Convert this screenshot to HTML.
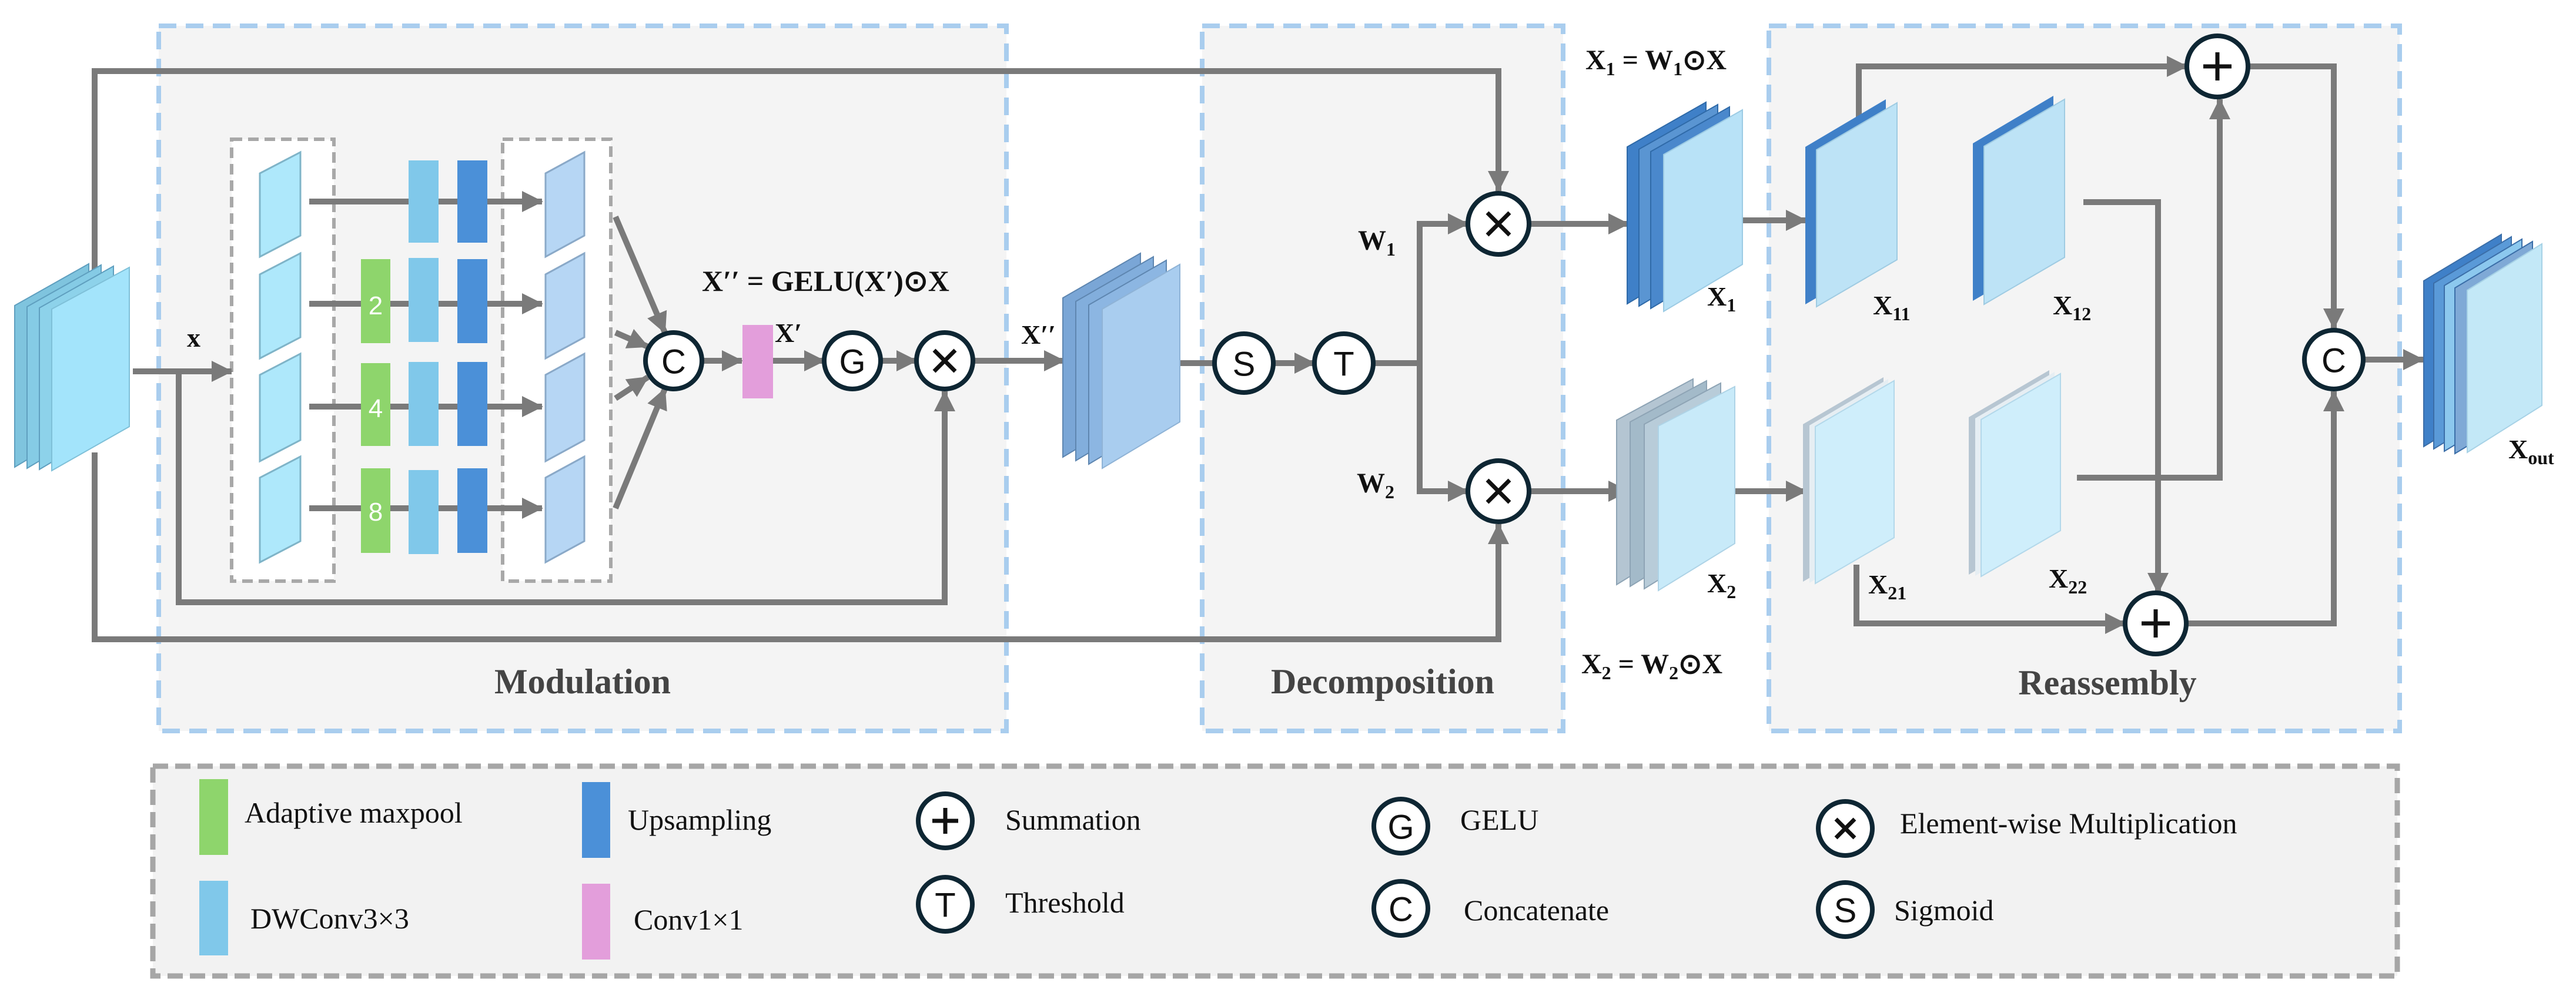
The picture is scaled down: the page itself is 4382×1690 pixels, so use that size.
<!DOCTYPE html>
<html><head><meta charset="utf-8"><style>
html,body{margin:0;padding:0;background:#fff;}
svg{display:block;}
.lbl{font-family:"Liberation Serif",serif;font-weight:bold;fill:#111;}
.sec{font-family:"Liberation Serif",serif;font-weight:bold;fill:#444;font-size:60px;}
.leg{font-family:"Liberation Serif",serif;fill:#111;font-size:50px;}
.cg{font-family:"Liberation Sans",sans-serif;fill:#111;font-size:58px;text-anchor:middle;dominant-baseline:central;}
.ln{stroke:#7a7a7a;stroke-width:10;fill:none;}
.circ{fill:#fff;stroke:#0e2633;stroke-width:8;}
.op{stroke:#111;stroke-width:7;}
</style></head><body>
<svg width="4382" height="1690" viewBox="0 0 4382 1690" xmlns="http://www.w3.org/2000/svg">
<defs>
<marker id="a" markerUnits="userSpaceOnUse" markerWidth="40" markerHeight="40" refX="34" refY="20" orient="auto">
<path d="M0,2 L36,20 L0,38 Z" fill="#7a7a7a"/>
</marker>
</defs>
<rect width="4382" height="1690" fill="#fff"/>

<rect x="270" y="44" width="1442" height="1200" fill="#f4f4f4" stroke="#a9cdee" stroke-width="8" stroke-dasharray="30 16"/>
<rect x="2045" y="44" width="614" height="1200" fill="#f4f4f4" stroke="#a9cdee" stroke-width="8" stroke-dasharray="30 16"/>
<rect x="3009" y="44" width="1073" height="1200" fill="#f4f4f4" stroke="#a9cdee" stroke-width="8" stroke-dasharray="30 16"/>
<rect x="260" y="1304" width="3818" height="357" fill="#f2f2f2" stroke="#a6a6a6" stroke-width="9" stroke-dasharray="26 12"/>

<rect x="394" y="237" width="174" height="752" fill="#fff" stroke="#a8a8a8" stroke-width="6" stroke-dasharray="18 10"/>
<rect x="855" y="237" width="184" height="752" fill="#fff" stroke="#a8a8a8" stroke-width="6" stroke-dasharray="18 10"/>

<polyline class="ln" points="161,486 161,121 2549,121 2549,325" marker-end="url(#a)"/>
<polyline class="ln" points="161,770 161,1088 2549,1088 2549,892" marker-end="url(#a)"/>
<line class="ln" x1="226" y1="632" x2="394" y2="632" marker-end="url(#a)"/>
<polyline class="ln" points="304,632 304,1025 1607,1025 1607,666" marker-end="url(#a)"/>
<line class="ln" x1="526" y1="343" x2="922" y2="343" marker-end="url(#a)"/>
<line class="ln" x1="526" y1="517" x2="922" y2="517" marker-end="url(#a)"/>
<line class="ln" x1="526" y1="692" x2="922" y2="692" marker-end="url(#a)"/>
<line class="ln" x1="526" y1="865" x2="922" y2="865" marker-end="url(#a)"/>
<line class="ln" x1="1047" y1="369" x2="1131" y2="566" marker-end="url(#a)"/>
<line class="ln" x1="1047" y1="566" x2="1102" y2="590" marker-end="url(#a)"/>
<line class="ln" x1="1047" y1="678" x2="1102" y2="642" marker-end="url(#a)"/>
<line class="ln" x1="1047" y1="865" x2="1131" y2="662" marker-end="url(#a)"/>
<line class="ln" x1="1196" y1="614" x2="1262" y2="614" marker-end="url(#a)"/>
<line class="ln" x1="1315" y1="614" x2="1402" y2="614" marker-end="url(#a)"/>
<line class="ln" x1="1500" y1="614" x2="1559" y2="614" marker-end="url(#a)"/>
<line class="ln" x1="1657" y1="614" x2="1810" y2="614" marker-end="url(#a)"/>
<line class="ln" x1="2007" y1="618" x2="2066" y2="618"/>
<line class="ln" x1="2168" y1="618" x2="2236" y2="618" marker-end="url(#a)"/>
<line class="ln" x1="2338" y1="618" x2="2415" y2="618"/>
<polyline class="ln" points="2497,381 2415,381 2415,836 2497,836" marker-end="url(#a)"/>
<line class="ln" x1="2415" y1="381" x2="2497" y2="381" marker-end="url(#a)"/>
<line class="ln" x1="2603" y1="381" x2="2770" y2="381" marker-end="url(#a)"/>
<line class="ln" x1="2603" y1="836" x2="2770" y2="836" marker-end="url(#a)"/>
<line class="ln" x1="2893" y1="375" x2="3072" y2="375" marker-end="url(#a)"/>
<line class="ln" x1="2890" y1="836" x2="3072" y2="836" marker-end="url(#a)"/>
<polyline class="ln" points="3162,207 3162,113 3720,113" marker-end="url(#a)"/>
<polyline class="ln" points="3826,113 3970,113 3970,559" marker-end="url(#a)"/>
<polyline class="ln" points="3544,344 3671,344 3671,1009" marker-end="url(#a)"/>
<polyline class="ln" points="3533,813 3776,813 3776,169" marker-end="url(#a)"/>
<polyline class="ln" points="3158,961 3158,1061 3615,1061" marker-end="url(#a)"/>
<polyline class="ln" points="3721,1061 3970,1061 3970,666" marker-end="url(#a)"/>
<line class="ln" x1="4022" y1="612" x2="4122" y2="612" marker-end="url(#a)"/>

<g stroke="#5f9fbf" stroke-width="2">
<polygon points="25,520 151,449 151,720 25,795" fill="#7fc4de"/>
<polygon points="46,522 172,451 172,722 46,797" fill="#85cbe5"/>
<polygon points="67,524 193,453 193,724 67,799" fill="#8dd2ea"/>
<polygon points="88,526 220,455 220,726 88,801" fill="#a3e4fb" stroke="#7fc0d8"/>
</g>

<g fill="#aee8fb" stroke="#7fb4c8" stroke-width="3">
<polygon points="442,295 511,259 511,401 442,437"/>
<polygon points="442,467 511,431 511,574 442,610"/>
<polygon points="442,638 511,602 511,749 442,785"/>
<polygon points="442,813 511,777 511,921 442,957"/>
</g>
<g fill="#b6d6f4" stroke="#8aa9c8" stroke-width="3">
<polygon points="928,295 994,259 994,401 928,437"/>
<polygon points="928,467 994,431 994,574 928,610"/>
<polygon points="928,638 994,602 994,749 928,785"/>
<polygon points="928,813 994,777 994,921 928,957"/>
</g>

<rect x="695" y="273" width="51" height="140" fill="#80c8ea"/>
<rect x="778" y="273" width="51" height="140" fill="#4b90d8"/>
<rect x="614" y="441" width="50" height="143" fill="#8ed56c"/>
<rect x="695" y="439" width="51" height="143" fill="#80c8ea"/>
<rect x="778" y="441" width="51" height="143" fill="#4b90d8"/>
<rect x="614" y="618" width="50" height="141" fill="#8ed56c"/>
<rect x="695" y="616" width="51" height="143" fill="#80c8ea"/>
<rect x="778" y="616" width="51" height="143" fill="#4b90d8"/>
<rect x="614" y="797" width="50" height="144" fill="#8ed56c"/>
<rect x="695" y="800" width="51" height="143" fill="#80c8ea"/>
<rect x="778" y="797" width="51" height="144" fill="#4b90d8"/>
<text x="639" y="535" font-family="Liberation Sans,sans-serif" font-size="44" fill="#fff" text-anchor="middle">2</text>
<text x="639" y="710" font-family="Liberation Sans,sans-serif" font-size="44" fill="#fff" text-anchor="middle">4</text>
<text x="639" y="886" font-family="Liberation Sans,sans-serif" font-size="44" fill="#fff" text-anchor="middle">8</text>
<rect x="1263" y="553" width="52" height="125" fill="#e39edb"/>

<g stroke="#5e86b0" stroke-width="2">
<polygon points="1808,507 1940,431 1940,699 1808,778" fill="#7aa6d6"/>
<polygon points="1830,513 1962,437 1962,705 1830,784" fill="#82aedc"/>
<polygon points="1852,519 1984,443 1984,711 1852,790" fill="#8cb6e2"/>
<polygon points="1875,526 2007,450 2007,718 1875,797" fill="#a9cdef" stroke="#8fb3d6"/>
</g>

<g stroke="#2f6aa8" stroke-width="2">
<polygon points="2768,250 2902,174 2902,437 2768,517" fill="#3f80c8"/>
<polygon points="2788,254 2922,178 2922,441 2788,521" fill="#5a95d2"/>
<polygon points="2808,258 2942,182 2942,445 2808,525" fill="#4a88cc"/>
<polygon points="2830,263 2964,187 2964,450 2830,530" fill="#b8e2f7" stroke="#9ccbe4"/>
</g>
<g stroke="#8ea4b5" stroke-width="2">
<polygon points="2750,715 2880,645 2880,915 2750,995" fill="#b4c5d2"/>
<polygon points="2773,718 2903,648 2903,918 2773,998" fill="#a3bac9"/>
<polygon points="2797,722 2927,652 2927,922 2797,1002" fill="#b8ccd9"/>
<polygon points="2821,725 2951,658 2951,925 2821,1005" fill="#c8eaf9" stroke="#aed3e6"/>
</g>

<polygon points="3071,250 3208,169 3208,438 3071,518" fill="#3f80c8"/>
<polygon points="3090,255 3227,175 3227,442 3090,522" fill="#bde3f6" stroke="#9fcbe2" stroke-width="2"/>
<polygon points="3356,244 3493,163 3493,432 3356,512" fill="#3f80c8"/>
<polygon points="3375,249 3512,169 3512,438 3375,518" fill="#bde3f6" stroke="#9fcbe2" stroke-width="2"/>
<polygon points="3067,722 3204,642 3204,910 3067,990" fill="#b7c6d2"/>
<polygon points="3078,724 3212,645 3212,912 3078,992" fill="#e6eef3"/>
<polygon points="3088,726 3222,648 3222,915 3088,993" fill="#cfeefb" stroke="#b3d8ea" stroke-width="2"/>
<polygon points="3349,710 3486,630 3486,898 3349,978" fill="#b7c6d2"/>
<polygon points="3360,712 3495,633 3495,900 3360,980" fill="#e6eef3"/>
<polygon points="3370,714 3505,636 3505,903 3370,981" fill="#cfeefb" stroke="#b3d8ea" stroke-width="2"/>

<g stroke="#3b6ea8" stroke-width="2">
<polygon points="4123,478 4255,399 4255,680 4123,760" fill="#3f80c8"/>
<polygon points="4140,482 4272,403 4272,684 4140,764" fill="#5a9ad8"/>
<polygon points="4158,486 4290,407 4290,688 4158,768" fill="#8cc8ee"/>
<polygon points="4176,490 4308,411 4308,692 4176,772" fill="#7fa9d6"/>
<polygon points="4197,494 4324,415 4324,690 4197,770" fill="#c3e8f7" stroke="#a7d2e6"/>
</g>

<circle class="circ" cx="1146" cy="614" r="48"/><text class="cg" x="1146" y="616">C</text>
<circle class="circ" cx="1450" cy="614" r="48"/><text class="cg" x="1450" y="616">G</text>
<circle class="circ" cx="1607" cy="614" r="48"/><path class="op" d="M1589,596 L1625,632 M1625,596 L1589,632"/>
<circle class="circ" cx="2116" cy="618" r="50"/><text class="cg" x="2116" y="620">S</text>
<circle class="circ" cx="2286" cy="618" r="50"/><text class="cg" x="2286" y="620">T</text>
<circle class="circ" cx="2549" cy="381" r="52"/><path class="op" d="M2530,362 L2568,400 M2568,362 L2530,400"/>
<circle class="circ" cx="2549" cy="836" r="52"/><path class="op" d="M2530,817 L2568,855 M2568,817 L2530,855"/>
<circle class="circ" cx="3772" cy="113" r="52"/><path class="op" d="M3772,89 L3772,137 M3748,113 L3796,113"/>
<circle class="circ" cx="3667" cy="1061" r="52"/><path class="op" d="M3667,1037 L3667,1085 M3643,1061 L3691,1061"/>
<circle class="circ" cx="3970" cy="612" r="50"/><text class="cg" x="3970" y="614">C</text>

<text class="lbl" x="318" y="590" font-size="46">x</text>
<text class="lbl" x="1194" y="495" font-size="50">X′′ = GELU(X′)⊙X</text>
<text class="lbl" x="1318" y="582" font-size="46">X′</text>
<text class="lbl" x="1737" y="585" font-size="46">X′′</text>
<text class="lbl" x="2310" y="425" font-size="48">W<tspan font-size="32" dy="10">1</tspan></text>
<text class="lbl" x="2308" y="838" font-size="48">W<tspan font-size="32" dy="10">2</tspan></text>
<text class="lbl" x="2697" y="118" font-size="48">X<tspan font-size="32" dy="10">1</tspan><tspan dy="-10"> = W</tspan><tspan font-size="32" dy="10">1</tspan><tspan dy="-10">⊙X</tspan></text>
<text class="lbl" x="2690" y="1146" font-size="48">X<tspan font-size="32" dy="10">2</tspan><tspan dy="-10"> = W</tspan><tspan font-size="32" dy="10">2</tspan><tspan dy="-10">⊙X</tspan></text>
<text class="lbl" x="2904" y="520" font-size="46">X<tspan font-size="32" dy="10">1</tspan></text>
<text class="lbl" x="2904" y="1008" font-size="46">X<tspan font-size="32" dy="10">2</tspan></text>
<text class="lbl" x="3186" y="535" font-size="46">X<tspan font-size="32" dy="10">11</tspan></text>
<text class="lbl" x="3492" y="535" font-size="46">X<tspan font-size="32" dy="10">12</tspan></text>
<text class="lbl" x="3178" y="1010" font-size="46">X<tspan font-size="32" dy="10">21</tspan></text>
<text class="lbl" x="3485" y="1000" font-size="46">X<tspan font-size="32" dy="10">22</tspan></text>
<text class="lbl" x="4267" y="780" font-size="46">X<tspan font-size="32" dy="10">out</tspan></text>

<text class="sec" x="991" y="1180" text-anchor="middle">Modulation</text>
<text class="sec" x="2352" y="1180" text-anchor="middle">Decomposition</text>
<text class="sec" x="3585" y="1182" text-anchor="middle">Reassembly</text>

<rect x="339" y="1326" width="49" height="129" fill="#8ed56c"/>
<text class="leg" x="416" y="1400">Adaptive maxpool</text>
<rect x="990" y="1331" width="48" height="129" fill="#4b90d8"/>
<text class="leg" x="1068" y="1412">Upsampling</text>
<rect x="339" y="1499" width="49" height="127" fill="#80c8ea"/>
<text class="leg" x="426" y="1580">DWConv3×3</text>
<rect x="990" y="1504" width="48" height="129" fill="#e39edb"/>
<text class="leg" x="1078" y="1582">Conv1×1</text>

<circle class="circ" cx="1608" cy="1397" r="46"/><path class="op" d="M1608,1375 L1608,1419 M1586,1397 L1630,1397"/>
<text class="leg" x="1710" y="1412">Summation</text>
<circle class="circ" cx="1608" cy="1539" r="46"/><text class="cg" x="1608" y="1541" font-size="52">T</text>
<text class="leg" x="1710" y="1553">Threshold</text>
<circle class="circ" cx="2383" cy="1406" r="46"/><text class="cg" x="2383" y="1408" font-size="52">G</text>
<text class="leg" x="2484" y="1412">GELU</text>
<circle class="circ" cx="2383" cy="1546" r="46"/><text class="cg" x="2383" y="1548" font-size="52">C</text>
<text class="leg" x="2490" y="1566">Concatenate</text>
<circle class="circ" cx="3139" cy="1410" r="46"/><path class="op" d="M3123,1394 L3155,1426 M3155,1394 L3123,1426"/>
<text class="leg" x="3232" y="1418">Element-wise Multiplication</text>
<circle class="circ" cx="3139" cy="1548" r="46"/><text class="cg" x="3139" y="1550" font-size="52">S</text>
<text class="leg" x="3222" y="1566">Sigmoid</text>
</svg>
</body></html>
